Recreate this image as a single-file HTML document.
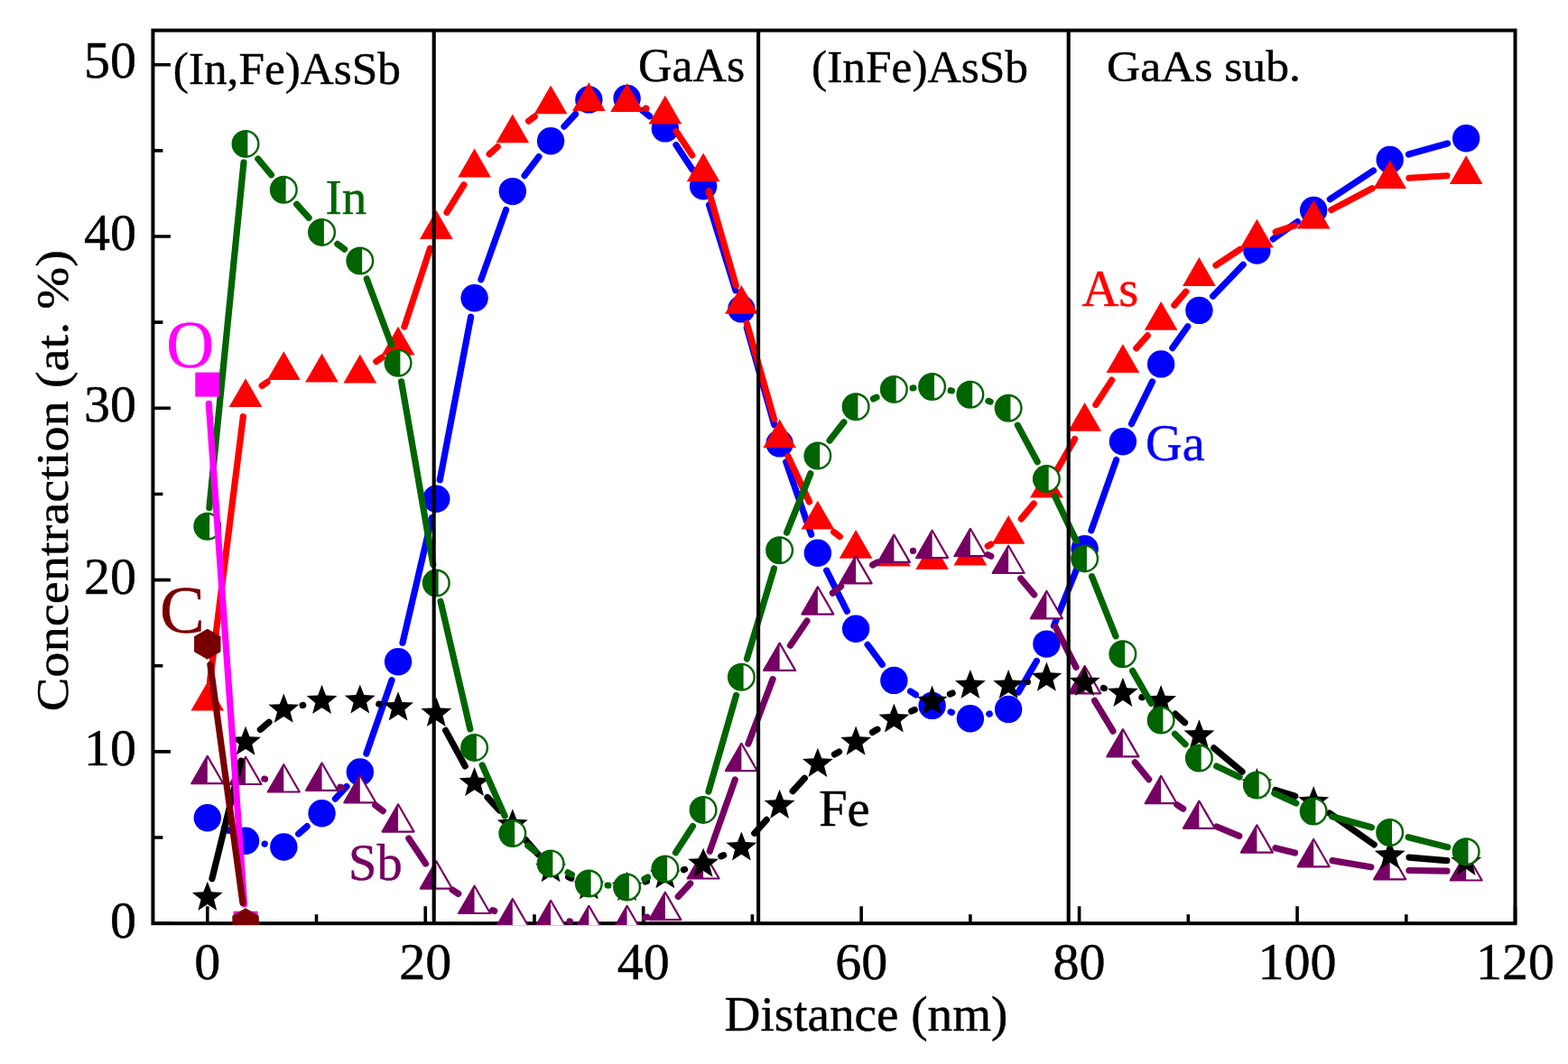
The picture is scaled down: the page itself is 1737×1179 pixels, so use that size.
<!DOCTYPE html>
<html><head><meta charset="utf-8"><title>Concentration profile</title>
<style>html,body{margin:0;padding:0;background:#fff;}svg{display:block;filter:blur(0.35px);}</style>
</head><body>
<svg width="1737" height="1179" viewBox="0 0 1737 1179">
<defs><clipPath id="pc"><rect x="169.44" y="33.64" width="1509.06" height="991.26"/></clipPath></defs>
<rect width="1737" height="1179" fill="#fff"/>
<path d="M229.8 1023.2V1004.2M350.52 1023.2V1013.2M471.25 1023.2V1004.2M591.98 1023.2V1013.2M712.7 1023.2V1004.2M833.42 1023.2V1013.2M954.15 1023.2V1004.2M1074.88 1023.2V1013.2M1195.6 1023.2V1004.2M1316.33 1023.2V1013.2M1437.05 1023.2V1004.2M1557.77 1023.2V1013.2M1678.5 1023.2V1004.2M169.44 1023.2H188.94M169.44 928.05H180.44M169.44 832.9H188.94M169.44 737.75H180.44M169.44 642.6H188.94M169.44 547.45H180.44M169.44 452.3H188.94M169.44 357.15H180.44M169.44 262H188.94M169.44 166.85H180.44M169.44 71.7H188.94" stroke="#000" stroke-width="3.6" fill="none"/>
<rect x="169.44" y="33.64" width="1509.06" height="989.56" fill="none" stroke="#000" stroke-width="4"/>
<g clip-path="url(#pc)">
<path d="M248.49 917.54L253.36 920.46M293.13 935.09L293.23 935.11M330.72 924.01L340.15 915.69M371.41 885.1L383.96 871.5M405.87 834.99L434.01 753.71M445.96 712.41L478.43 573.69M487.31 531.78L521.59 351.22M532.86 309.86L560.55 232.44M581.02 194.65L596.89 173.65M624.93 140.11L637.49 126.49M711.74 122.49L719.7 128.81M748.89 160.61L767.06 188.09M785.49 226.88L814.96 321.82M827.22 363.1L857.74 470.7M870.71 511.8L898.76 592.4M915.63 632.22L938.34 677.38M961.12 714.38L977.36 736.32M1008.57 765.96L1014.42 769.84M1053.05 788.86L1054.45 789.34M1095.73 791.17L1096.28 791.03M1128.13 767.08L1148.38 732.42M1167.44 693.5L1193.58 628.3M1208.87 587.84L1236.66 509.56M1253.49 469.7L1276.54 422.9M1298.8 385.58L1315.74 361.72M1343.6 328.13L1377.18 293.27M1410.2 264.84L1437.34 245.56M1473.36 220.84L1521.47 188.96M1560.39 171.09L1603.45 159.01" stroke="#0000ff" stroke-width="7.2" fill="none" stroke-linecap="round"/>
<circle cx="229.8" cy="906.3" r="15.2" fill="#0000ff"/>
<circle cx="272.05" cy="931.7" r="15.2" fill="#0000ff"/>
<circle cx="314.31" cy="938.5" r="15.2" fill="#0000ff"/>
<circle cx="356.56" cy="901.2" r="15.2" fill="#0000ff"/>
<circle cx="398.81" cy="855.4" r="15.2" fill="#0000ff"/>
<circle cx="441.07" cy="733.3" r="15.2" fill="#0000ff"/>
<circle cx="483.32" cy="552.8" r="15.2" fill="#0000ff"/>
<circle cx="525.58" cy="330.2" r="15.2" fill="#0000ff"/>
<circle cx="567.83" cy="212.1" r="15.2" fill="#0000ff"/>
<circle cx="610.08" cy="156.2" r="15.2" fill="#0000ff"/>
<circle cx="652.34" cy="110.4" r="15.2" fill="#0000ff"/>
<circle cx="694.59" cy="108.9" r="15.2" fill="#0000ff"/>
<circle cx="736.85" cy="142.4" r="15.2" fill="#0000ff"/>
<circle cx="779.1" cy="206.3" r="15.2" fill="#0000ff"/>
<circle cx="821.35" cy="342.4" r="15.2" fill="#0000ff"/>
<circle cx="863.61" cy="491.4" r="15.2" fill="#0000ff"/>
<circle cx="905.86" cy="612.8" r="15.2" fill="#0000ff"/>
<circle cx="948.11" cy="696.8" r="15.2" fill="#0000ff"/>
<circle cx="990.37" cy="753.9" r="15.2" fill="#0000ff"/>
<circle cx="1032.62" cy="781.9" r="15.2" fill="#0000ff"/>
<circle cx="1074.88" cy="796.3" r="15.2" fill="#0000ff"/>
<circle cx="1117.13" cy="785.9" r="15.2" fill="#0000ff"/>
<circle cx="1159.38" cy="713.6" r="15.2" fill="#0000ff"/>
<circle cx="1201.64" cy="608.2" r="15.2" fill="#0000ff"/>
<circle cx="1243.89" cy="489.2" r="15.2" fill="#0000ff"/>
<circle cx="1286.14" cy="403.4" r="15.2" fill="#0000ff"/>
<circle cx="1328.4" cy="343.9" r="15.2" fill="#0000ff"/>
<circle cx="1392.38" cy="277.5" r="15.2" fill="#0000ff"/>
<circle cx="1455.16" cy="232.9" r="15.2" fill="#0000ff"/>
<circle cx="1539.67" cy="176.9" r="15.2" fill="#0000ff"/>
<circle cx="1624.17" cy="153.2" r="15.2" fill="#0000ff"/>
<path d="M232.47 755.69L269.38 461.71M290.26 427.51L296.1 423.39M416.81 400.7L423.07 396.1M447.9 362.1L476.49 275.1M495 235.36L513.9 204.74M542.18 170.79L551.23 162.61M585.63 134.11L592.28 129.09M715.43 120.06L716.01 120.24M749.15 145.48L766.8 172.12M785.15 211.66L815.3 316.24M827.32 358.18L857.64 464.62M872.98 505.62L896.49 555.88M923.63 589.44L930.34 594.56M1094.21 605.07L1097.8 603.03M1131.36 574.86L1145.15 558.14M1170.43 521.63L1190.59 486.47M1213.82 448.55L1231.71 421.15M1258.79 385.81L1271.24 371.89M1300.77 338.28L1313.77 323.22M1346.99 294.01L1373.79 276.29M1413.14 257.02L1434.4 249.88M1474.78 232.59L1520.05 208.81M1560.95 197.24L1602.89 194.76" stroke="#ff0000" stroke-width="7.2" fill="none" stroke-linecap="round"/>
<path d="M229.8 755.8L211.44 787.6L248.16 787.6Z" fill="#ff0000"/>
<path d="M272.05 419.2L253.69 451L290.41 451Z" fill="#ff0000"/>
<path d="M314.31 389.3L295.95 421.1L332.67 421.1Z" fill="#ff0000"/>
<path d="M356.56 391.8L338.2 423.6L374.92 423.6Z" fill="#ff0000"/>
<path d="M398.81 392.7L380.45 424.5L417.17 424.5Z" fill="#ff0000"/>
<path d="M441.07 361.7L422.71 393.5L459.43 393.5Z" fill="#ff0000"/>
<path d="M483.32 233.1L464.96 264.9L501.68 264.9Z" fill="#ff0000"/>
<path d="M525.58 164.6L507.22 196.4L543.94 196.4Z" fill="#ff0000"/>
<path d="M567.83 126.4L549.47 158.2L586.19 158.2Z" fill="#ff0000"/>
<path d="M610.08 94.4L591.72 126.2L628.44 126.2Z" fill="#ff0000"/>
<path d="M652.34 91.3L633.98 123.1L670.7 123.1Z" fill="#ff0000"/>
<path d="M694.59 92.2L676.23 124L712.95 124Z" fill="#ff0000"/>
<path d="M736.85 105.7L718.49 137.5L755.21 137.5Z" fill="#ff0000"/>
<path d="M779.1 169.5L760.74 201.3L797.46 201.3Z" fill="#ff0000"/>
<path d="M821.35 316L802.99 347.8L839.71 347.8Z" fill="#ff0000"/>
<path d="M863.61 464.4L845.25 496.2L881.97 496.2Z" fill="#ff0000"/>
<path d="M905.86 554.7L887.5 586.5L924.22 586.5Z" fill="#ff0000"/>
<path d="M948.11 586.9L929.75 618.7L966.47 618.7Z" fill="#ff0000"/>
<path d="M990.37 595.8L972.01 627.6L1008.73 627.6Z" fill="#ff0000"/>
<path d="M1032.62 599.3L1014.26 631.1L1050.98 631.1Z" fill="#ff0000"/>
<path d="M1074.88 594.8L1056.52 626.6L1093.24 626.6Z" fill="#ff0000"/>
<path d="M1117.13 570.9L1098.77 602.7L1135.49 602.7Z" fill="#ff0000"/>
<path d="M1159.38 519.7L1141.02 551.5L1177.74 551.5Z" fill="#ff0000"/>
<path d="M1201.64 446L1183.28 477.8L1220 477.8Z" fill="#ff0000"/>
<path d="M1243.89 381.3L1225.53 413.1L1262.25 413.1Z" fill="#ff0000"/>
<path d="M1286.14 334L1267.78 365.8L1304.5 365.8Z" fill="#ff0000"/>
<path d="M1328.4 285.1L1310.04 316.9L1346.76 316.9Z" fill="#ff0000"/>
<path d="M1392.38 242.8L1374.02 274.6L1410.74 274.6Z" fill="#ff0000"/>
<path d="M1455.16 221.7L1436.8 253.5L1473.52 253.5Z" fill="#ff0000"/>
<path d="M1539.67 177.3L1521.31 209.1L1558.03 209.1Z" fill="#ff0000"/>
<path d="M1624.17 172.3L1605.81 204.1L1642.53 204.1Z" fill="#ff0000"/>
<path d="M292.83 863.08L293.53 863.22M376.75 872.15L378.62 872.75M415.65 892.07L424.23 898.63M452.88 929.11L471.51 956.89M501.11 986.03L507.79 990.37M545.65 1008.74L547.76 1009.46M631.07 1020.98L631.35 1021.02M714.57 1016.91L716.87 1016.09M751.26 993.45L764.69 978.95M786.17 943.41L814.28 863.99M828.88 824.18L856.08 752.62M875.51 715.25L893.96 688.05M922.34 657.16L931.63 649.64M966.64 626L971.84 623.1M1011.43 610.41L1011.56 610.39M1094.25 614.72L1097.76 616.28M1130.77 641.13L1145.74 658.97M1169 694.09L1192.02 739.31M1212.58 776.36L1232.95 810.14M1257.29 844.73L1272.74 863.67M1303.87 891.72L1310.67 896.18M1347.96 915.96L1372.82 926.34M1412.95 939.64L1434.59 945.06M1476.07 953.66L1518.76 960.74M1560.87 964.5L1602.97 965.1" stroke="#750063" stroke-width="7.2" fill="none" stroke-linecap="round"/>
<path d="M229.8 837.9L212.31 868.2L247.29 868.2Z" fill="#fff" stroke="#750063" stroke-width="2.2" stroke-linejoin="round"/><path d="M229.8 837.9L212.31 868.2L229.8 868.2Z" fill="#750063"/>
<path d="M272.05 838.7L254.56 869L289.54 869Z" fill="#fff" stroke="#750063" stroke-width="2.2" stroke-linejoin="round"/><path d="M272.05 838.7L254.56 869L272.05 869Z" fill="#750063"/>
<path d="M314.31 847.2L296.82 877.5L331.8 877.5Z" fill="#fff" stroke="#750063" stroke-width="2.2" stroke-linejoin="round"/><path d="M314.31 847.2L296.82 877.5L314.31 877.5Z" fill="#750063"/>
<path d="M356.56 845.5L339.07 875.8L374.05 875.8Z" fill="#fff" stroke="#750063" stroke-width="2.2" stroke-linejoin="round"/><path d="M356.56 845.5L339.07 875.8L356.56 875.8Z" fill="#750063"/>
<path d="M398.81 859L381.32 889.3L416.3 889.3Z" fill="#fff" stroke="#750063" stroke-width="2.2" stroke-linejoin="round"/><path d="M398.81 859L381.32 889.3L398.81 889.3Z" fill="#750063"/>
<path d="M441.07 891.3L423.58 921.6L458.56 921.6Z" fill="#fff" stroke="#750063" stroke-width="2.2" stroke-linejoin="round"/><path d="M441.07 891.3L423.58 921.6L441.07 921.6Z" fill="#750063"/>
<path d="M483.32 954.3L465.83 984.6L500.81 984.6Z" fill="#fff" stroke="#750063" stroke-width="2.2" stroke-linejoin="round"/><path d="M483.32 954.3L465.83 984.6L483.32 984.6Z" fill="#750063"/>
<path d="M525.58 981.7L508.09 1012L543.07 1012Z" fill="#fff" stroke="#750063" stroke-width="2.2" stroke-linejoin="round"/><path d="M525.58 981.7L508.09 1012L525.58 1012Z" fill="#750063"/>
<path d="M567.83 996.1L550.34 1026.4L585.32 1026.4Z" fill="#fff" stroke="#750063" stroke-width="2.2" stroke-linejoin="round"/><path d="M567.83 996.1L550.34 1026.4L567.83 1026.4Z" fill="#750063"/>
<path d="M610.08 997.8L592.59 1028.1L627.57 1028.1Z" fill="#fff" stroke="#750063" stroke-width="2.2" stroke-linejoin="round"/><path d="M610.08 997.8L592.59 1028.1L610.08 1028.1Z" fill="#750063"/>
<path d="M652.34 1003.8L634.85 1034.1L669.83 1034.1Z" fill="#fff" stroke="#750063" stroke-width="2.2" stroke-linejoin="round"/><path d="M652.34 1003.8L634.85 1034.1L652.34 1034.1Z" fill="#750063"/>
<path d="M694.59 1003.8L677.1 1034.1L712.08 1034.1Z" fill="#fff" stroke="#750063" stroke-width="2.2" stroke-linejoin="round"/><path d="M694.59 1003.8L677.1 1034.1L694.59 1034.1Z" fill="#750063"/>
<path d="M736.85 988.8L719.36 1019.1L754.34 1019.1Z" fill="#fff" stroke="#750063" stroke-width="2.2" stroke-linejoin="round"/><path d="M736.85 988.8L719.36 1019.1L736.85 1019.1Z" fill="#750063"/>
<path d="M779.1 943.2L761.61 973.5L796.59 973.5Z" fill="#fff" stroke="#750063" stroke-width="2.2" stroke-linejoin="round"/><path d="M779.1 943.2L761.61 973.5L779.1 973.5Z" fill="#750063"/>
<path d="M821.35 823.8L803.86 854.1L838.84 854.1Z" fill="#fff" stroke="#750063" stroke-width="2.2" stroke-linejoin="round"/><path d="M821.35 823.8L803.86 854.1L821.35 854.1Z" fill="#750063"/>
<path d="M863.61 712.6L846.12 742.9L881.1 742.9Z" fill="#fff" stroke="#750063" stroke-width="2.2" stroke-linejoin="round"/><path d="M863.61 712.6L846.12 742.9L863.61 742.9Z" fill="#750063"/>
<path d="M905.86 650.3L888.37 680.6L923.35 680.6Z" fill="#fff" stroke="#750063" stroke-width="2.2" stroke-linejoin="round"/><path d="M905.86 650.3L888.37 680.6L905.86 680.6Z" fill="#750063"/>
<path d="M948.11 616.1L930.62 646.4L965.6 646.4Z" fill="#fff" stroke="#750063" stroke-width="2.2" stroke-linejoin="round"/><path d="M948.11 616.1L930.62 646.4L948.11 646.4Z" fill="#750063"/>
<path d="M990.37 592.6L972.88 622.9L1007.86 622.9Z" fill="#fff" stroke="#750063" stroke-width="2.2" stroke-linejoin="round"/><path d="M990.37 592.6L972.88 622.9L990.37 622.9Z" fill="#750063"/>
<path d="M1032.62 587.8L1015.13 618.1L1050.11 618.1Z" fill="#fff" stroke="#750063" stroke-width="2.2" stroke-linejoin="round"/><path d="M1032.62 587.8L1015.13 618.1L1032.62 618.1Z" fill="#750063"/>
<path d="M1074.88 585.9L1057.39 616.2L1092.37 616.2Z" fill="#fff" stroke="#750063" stroke-width="2.2" stroke-linejoin="round"/><path d="M1074.88 585.9L1057.39 616.2L1074.88 616.2Z" fill="#750063"/>
<path d="M1117.13 604.7L1099.64 635L1134.62 635Z" fill="#fff" stroke="#750063" stroke-width="2.2" stroke-linejoin="round"/><path d="M1117.13 604.7L1099.64 635L1117.13 635Z" fill="#750063"/>
<path d="M1159.38 655L1141.89 685.3L1176.87 685.3Z" fill="#fff" stroke="#750063" stroke-width="2.2" stroke-linejoin="round"/><path d="M1159.38 655L1141.89 685.3L1159.38 685.3Z" fill="#750063"/>
<path d="M1201.64 738L1184.15 768.3L1219.13 768.3Z" fill="#fff" stroke="#750063" stroke-width="2.2" stroke-linejoin="round"/><path d="M1201.64 738L1184.15 768.3L1201.64 768.3Z" fill="#750063"/>
<path d="M1243.89 808.1L1226.4 838.4L1261.38 838.4Z" fill="#fff" stroke="#750063" stroke-width="2.2" stroke-linejoin="round"/><path d="M1243.89 808.1L1226.4 838.4L1243.89 838.4Z" fill="#750063"/>
<path d="M1286.14 859.9L1268.65 890.2L1303.63 890.2Z" fill="#fff" stroke="#750063" stroke-width="2.2" stroke-linejoin="round"/><path d="M1286.14 859.9L1268.65 890.2L1286.14 890.2Z" fill="#750063"/>
<path d="M1328.4 887.6L1310.91 917.9L1345.89 917.9Z" fill="#fff" stroke="#750063" stroke-width="2.2" stroke-linejoin="round"/><path d="M1328.4 887.6L1310.91 917.9L1328.4 917.9Z" fill="#750063"/>
<path d="M1392.38 914.3L1374.89 944.6L1409.87 944.6Z" fill="#fff" stroke="#750063" stroke-width="2.2" stroke-linejoin="round"/><path d="M1392.38 914.3L1374.89 944.6L1392.38 944.6Z" fill="#750063"/>
<path d="M1455.16 930L1437.67 960.3L1472.65 960.3Z" fill="#fff" stroke="#750063" stroke-width="2.2" stroke-linejoin="round"/><path d="M1455.16 930L1437.67 960.3L1455.16 960.3Z" fill="#750063"/>
<path d="M1539.67 944L1522.18 974.3L1557.16 974.3Z" fill="#fff" stroke="#750063" stroke-width="2.2" stroke-linejoin="round"/><path d="M1539.67 944L1522.18 974.3L1539.67 974.3Z" fill="#750063"/>
<path d="M1624.17 945.2L1606.68 975.5L1641.66 975.5Z" fill="#fff" stroke="#750063" stroke-width="2.2" stroke-linejoin="round"/><path d="M1624.17 945.2L1606.68 975.5L1624.17 975.5Z" fill="#750063"/>
<path d="M234.91 973.69L266.94 843.11M288.36 808.4L298 800.2M335.2 781.5L335.67 781.4M419.88 780.14L420 780.16M493.62 809.39L515.28 848.91M540.03 883.53L553.38 898.17M581.86 930.2L596.05 946.6M629.59 971.66L632.83 973.14M714.99 976.94L716.45 976.46M757.39 963.78L758.56 963.42M798.8 948.86L801.65 947.64M835.73 923.31L849.23 908.39M878.11 876.72L891.36 862.28M924.47 835.88L929.5 833.02M966.52 811.42L971.96 808.18M1009.77 788.11L1013.22 786.49M1052.39 769.12L1055.11 767.98M1138.16 755.57L1138.35 755.53M1222.27 762.41L1223.26 762.69M1264.92 772.63L1265.11 772.67M1302.02 791.19L1312.52 800.71M1344.8 828.89L1375.98 855.11M1412.82 875.35L1434.72 882.25M1472.68 901.04L1522.15 935.86M1561.02 950.04L1602.82 953.66" stroke="#000000" stroke-width="7.2" fill="none" stroke-linecap="round"/>
<path d="M229.8 976.7L234.27 988.35L246.73 989L237.03 996.85L240.26 1008.9L229.8 1002.1L219.34 1008.9L222.57 996.85L212.87 989L225.33 988.35Z" fill="#000000"/>
<path d="M272.05 804.5L276.52 816.15L288.98 816.8L279.28 824.65L282.51 836.7L272.05 829.9L261.59 836.7L264.82 824.65L255.12 816.8L267.58 816.15Z" fill="#000000"/>
<path d="M314.31 768.5L318.78 780.15L331.24 780.8L321.54 788.65L324.77 800.7L314.31 793.9L303.85 800.7L307.08 788.65L297.38 780.8L309.84 780.15Z" fill="#000000"/>
<path d="M356.56 758.8L361.03 770.45L373.49 771.1L363.79 778.95L367.02 791L356.56 784.2L346.1 791L349.33 778.95L339.63 771.1L352.09 770.45Z" fill="#000000"/>
<path d="M398.81 758.4L403.28 770.05L415.74 770.7L406.04 778.55L409.27 790.6L398.81 783.8L388.35 790.6L391.58 778.55L381.88 770.7L394.34 770.05Z" fill="#000000"/>
<path d="M441.07 766.3L445.54 777.95L458 778.6L448.3 786.45L451.53 798.5L441.07 791.7L430.61 798.5L433.84 786.45L424.14 778.6L436.6 777.95Z" fill="#000000"/>
<path d="M483.32 772.8L487.79 784.45L500.25 785.1L490.55 792.95L493.78 805L483.32 798.2L472.86 805L476.09 792.95L466.39 785.1L478.85 784.45Z" fill="#000000"/>
<path d="M525.58 849.9L530.05 861.55L542.51 862.2L532.81 870.05L536.04 882.1L525.58 875.3L515.12 882.1L518.35 870.05L508.65 862.2L521.11 861.55Z" fill="#000000"/>
<path d="M567.83 896.2L572.3 907.85L584.76 908.5L575.06 916.35L578.29 928.4L567.83 921.6L557.37 928.4L560.6 916.35L550.9 908.5L563.36 907.85Z" fill="#000000"/>
<path d="M610.08 945L614.55 956.65L627.01 957.3L617.31 965.15L620.54 977.2L610.08 970.4L599.62 977.2L602.85 965.15L593.15 957.3L605.61 956.65Z" fill="#000000"/>
<path d="M652.34 964.2L656.81 975.85L669.27 976.5L659.57 984.35L662.8 996.4L652.34 989.6L641.88 996.4L645.11 984.35L635.41 976.5L647.87 975.85Z" fill="#000000"/>
<path d="M694.59 965.7L699.06 977.35L711.52 978L701.82 985.85L705.05 997.9L694.59 991.1L684.13 997.9L687.36 985.85L677.66 978L690.12 977.35Z" fill="#000000"/>
<path d="M736.85 952.1L741.32 963.75L753.78 964.4L744.08 972.25L747.31 984.3L736.85 977.5L726.39 984.3L729.62 972.25L719.92 964.4L732.38 963.75Z" fill="#000000"/>
<path d="M779.1 939.5L783.57 951.15L796.03 951.8L786.33 959.65L789.56 971.7L779.1 964.9L768.64 971.7L771.87 959.65L762.17 951.8L774.63 951.15Z" fill="#000000"/>
<path d="M821.35 921.4L825.82 933.05L838.28 933.7L828.58 941.55L831.81 953.6L821.35 946.8L810.89 953.6L814.12 941.55L804.42 933.7L816.88 933.05Z" fill="#000000"/>
<path d="M863.61 874.7L868.08 886.35L880.54 887L870.84 894.85L874.07 906.9L863.61 900.1L853.15 906.9L856.38 894.85L846.68 887L859.14 886.35Z" fill="#000000"/>
<path d="M905.86 828.7L910.33 840.35L922.79 841L913.09 848.85L916.32 860.9L905.86 854.1L895.4 860.9L898.63 848.85L888.93 841L901.39 840.35Z" fill="#000000"/>
<path d="M948.11 804.6L952.58 816.25L965.04 816.9L955.34 824.75L958.57 836.8L948.11 830L937.65 836.8L940.88 824.75L931.18 816.9L943.64 816.25Z" fill="#000000"/>
<path d="M990.37 779.4L994.84 791.05L1007.3 791.7L997.6 799.55L1000.83 811.6L990.37 804.8L979.91 811.6L983.14 799.55L973.44 791.7L985.9 791.05Z" fill="#000000"/>
<path d="M1032.62 759.6L1037.09 771.25L1049.55 771.9L1039.85 779.75L1043.08 791.8L1032.62 785L1022.16 791.8L1025.39 779.75L1015.69 771.9L1028.15 771.25Z" fill="#000000"/>
<path d="M1074.88 741.9L1079.35 753.55L1091.81 754.2L1082.11 762.05L1085.34 774.1L1074.88 767.3L1064.42 774.1L1067.65 762.05L1057.95 754.2L1070.41 753.55Z" fill="#000000"/>
<path d="M1117.13 741.9L1121.6 753.55L1134.06 754.2L1124.36 762.05L1127.59 774.1L1117.13 767.3L1106.67 774.1L1109.9 762.05L1100.2 754.2L1112.66 753.55Z" fill="#000000"/>
<path d="M1159.38 733.6L1163.85 745.25L1176.31 745.9L1166.61 753.75L1169.84 765.8L1159.38 759L1148.92 765.8L1152.15 753.75L1142.45 745.9L1154.91 745.25Z" fill="#000000"/>
<path d="M1201.64 738.8L1206.11 750.45L1218.57 751.1L1208.87 758.95L1212.1 771L1201.64 764.2L1191.18 771L1194.41 758.95L1184.71 751.1L1197.17 750.45Z" fill="#000000"/>
<path d="M1243.89 750.7L1248.36 762.35L1260.82 763L1251.12 770.85L1254.35 782.9L1243.89 776.1L1233.43 782.9L1236.66 770.85L1226.96 763L1239.42 762.35Z" fill="#000000"/>
<path d="M1286.14 759L1290.61 770.65L1303.07 771.3L1293.37 779.15L1296.6 791.2L1286.14 784.4L1275.68 791.2L1278.91 779.15L1269.21 771.3L1281.67 770.65Z" fill="#000000"/>
<path d="M1328.4 797.3L1332.87 808.95L1345.33 809.6L1335.63 817.45L1338.86 829.5L1328.4 822.7L1317.94 829.5L1321.17 817.45L1311.47 809.6L1323.93 808.95Z" fill="#000000"/>
<path d="M1392.38 851.1L1396.85 862.75L1409.31 863.4L1399.61 871.25L1402.84 883.3L1392.38 876.5L1381.92 883.3L1385.15 871.25L1375.45 863.4L1387.91 862.75Z" fill="#000000"/>
<path d="M1455.16 870.9L1459.63 882.55L1472.09 883.2L1462.39 891.05L1465.62 903.1L1455.16 896.3L1444.7 903.1L1447.93 891.05L1438.23 883.2L1450.69 882.55Z" fill="#000000"/>
<path d="M1539.67 930.4L1544.14 942.05L1556.6 942.7L1546.9 950.55L1550.13 962.6L1539.67 955.8L1529.21 962.6L1532.44 950.55L1522.74 942.7L1535.2 942.05Z" fill="#000000"/>
<path d="M1624.17 937.7L1628.64 949.35L1641.1 950L1631.4 957.85L1634.63 969.9L1624.17 963.1L1613.71 969.9L1616.94 957.85L1607.24 950L1619.7 949.35Z" fill="#000000"/>
<path d="M231.86 562.61L269.99 180.09M285.84 176.01L300.52 193.69M328.73 226.37L342.14 241.33M373.82 270.31L381.55 276.09M406.24 308.91L433.64 382.29M444.64 422.83L479.75 625.37M488.07 666.5L520.83 807.9M534.24 847.91L559.17 904.09M584.77 936.95L593.14 943.55M629.06 966.83L633.36 969.07M673.04 981.01L673.89 981.09M713.88 973.88L717.56 972.12M748.51 944.82L767.44 915.48M784.93 877.09L815.52 770.51M827.45 729.95L857.51 630.05M871.58 590.05L897.89 524.85M919.11 488.08L934.86 467.82M967.52 441.89L970.96 440.31M1011.06 429.98L1011.93 429.92M1053.18 432.73L1054.32 432.97M1094.88 444.35L1097.13 445.15M1127.31 471.16L1149.2 511.74M1168.61 549.88L1192.41 599.62M1209.53 638.67L1236 705.03M1254.61 743.4L1275.42 779.5M1301.48 813.31L1313.06 824.79M1347.75 849.07L1373.03 860.93M1411.77 878.96L1435.77 890.04M1475.5 904.66L1519.33 916.84M1560.1 927.65L1603.74 938.65" stroke="#006400" stroke-width="7.2" fill="none" stroke-linecap="round"/>
<circle cx="229.8" cy="583.3" r="14.3" fill="#fff" stroke="#006400" stroke-width="2.4"/><path d="M232.1 569.19A14.3 14.3 0 1 0 232.1 597.41Z" fill="#006400"/>
<circle cx="272.05" cy="159.4" r="14.3" fill="#fff" stroke="#006400" stroke-width="2.4"/><path d="M274.35 145.29A14.3 14.3 0 1 0 274.35 173.51Z" fill="#006400"/>
<circle cx="314.31" cy="210.3" r="14.3" fill="#fff" stroke="#006400" stroke-width="2.4"/><path d="M316.61 196.19A14.3 14.3 0 1 0 316.61 224.41Z" fill="#006400"/>
<circle cx="356.56" cy="257.4" r="14.3" fill="#fff" stroke="#006400" stroke-width="2.4"/><path d="M358.86 243.29A14.3 14.3 0 1 0 358.86 271.51Z" fill="#006400"/>
<circle cx="398.81" cy="289" r="14.3" fill="#fff" stroke="#006400" stroke-width="2.4"/><path d="M401.11 274.89A14.3 14.3 0 1 0 401.11 303.11Z" fill="#006400"/>
<circle cx="441.07" cy="402.2" r="14.3" fill="#fff" stroke="#006400" stroke-width="2.4"/><path d="M443.37 388.09A14.3 14.3 0 1 0 443.37 416.31Z" fill="#006400"/>
<circle cx="483.32" cy="646" r="14.3" fill="#fff" stroke="#006400" stroke-width="2.4"/><path d="M485.62 631.89A14.3 14.3 0 1 0 485.62 660.11Z" fill="#006400"/>
<circle cx="525.58" cy="828.4" r="14.3" fill="#fff" stroke="#006400" stroke-width="2.4"/><path d="M527.88 814.29A14.3 14.3 0 1 0 527.88 842.51Z" fill="#006400"/>
<circle cx="567.83" cy="923.6" r="14.3" fill="#fff" stroke="#006400" stroke-width="2.4"/><path d="M570.13 909.49A14.3 14.3 0 1 0 570.13 937.71Z" fill="#006400"/>
<circle cx="610.08" cy="956.9" r="14.3" fill="#fff" stroke="#006400" stroke-width="2.4"/><path d="M612.38 942.79A14.3 14.3 0 1 0 612.38 971.01Z" fill="#006400"/>
<circle cx="652.34" cy="979" r="14.3" fill="#fff" stroke="#006400" stroke-width="2.4"/><path d="M654.64 964.89A14.3 14.3 0 1 0 654.64 993.11Z" fill="#006400"/>
<circle cx="694.59" cy="983.1" r="14.3" fill="#fff" stroke="#006400" stroke-width="2.4"/><path d="M696.89 968.99A14.3 14.3 0 1 0 696.89 997.21Z" fill="#006400"/>
<circle cx="736.85" cy="962.9" r="14.3" fill="#fff" stroke="#006400" stroke-width="2.4"/><path d="M739.15 948.79A14.3 14.3 0 1 0 739.15 977.01Z" fill="#006400"/>
<circle cx="779.1" cy="897.4" r="14.3" fill="#fff" stroke="#006400" stroke-width="2.4"/><path d="M781.4 883.29A14.3 14.3 0 1 0 781.4 911.51Z" fill="#006400"/>
<circle cx="821.35" cy="750.2" r="14.3" fill="#fff" stroke="#006400" stroke-width="2.4"/><path d="M823.65 736.09A14.3 14.3 0 1 0 823.65 764.31Z" fill="#006400"/>
<circle cx="863.61" cy="609.8" r="14.3" fill="#fff" stroke="#006400" stroke-width="2.4"/><path d="M865.91 595.69A14.3 14.3 0 1 0 865.91 623.91Z" fill="#006400"/>
<circle cx="905.86" cy="505.1" r="14.3" fill="#fff" stroke="#006400" stroke-width="2.4"/><path d="M908.16 490.99A14.3 14.3 0 1 0 908.16 519.21Z" fill="#006400"/>
<circle cx="948.11" cy="450.8" r="14.3" fill="#fff" stroke="#006400" stroke-width="2.4"/><path d="M950.41 436.69A14.3 14.3 0 1 0 950.41 464.91Z" fill="#006400"/>
<circle cx="990.37" cy="431.4" r="14.3" fill="#fff" stroke="#006400" stroke-width="2.4"/><path d="M992.67 417.29A14.3 14.3 0 1 0 992.67 445.51Z" fill="#006400"/>
<circle cx="1032.62" cy="428.5" r="14.3" fill="#fff" stroke="#006400" stroke-width="2.4"/><path d="M1034.92 414.39A14.3 14.3 0 1 0 1034.92 442.61Z" fill="#006400"/>
<circle cx="1074.88" cy="437.2" r="14.3" fill="#fff" stroke="#006400" stroke-width="2.4"/><path d="M1077.18 423.09A14.3 14.3 0 1 0 1077.18 451.31Z" fill="#006400"/>
<circle cx="1117.13" cy="452.3" r="14.3" fill="#fff" stroke="#006400" stroke-width="2.4"/><path d="M1119.43 438.19A14.3 14.3 0 1 0 1119.43 466.41Z" fill="#006400"/>
<circle cx="1159.38" cy="530.6" r="14.3" fill="#fff" stroke="#006400" stroke-width="2.4"/><path d="M1161.68 516.49A14.3 14.3 0 1 0 1161.68 544.71Z" fill="#006400"/>
<circle cx="1201.64" cy="618.9" r="14.3" fill="#fff" stroke="#006400" stroke-width="2.4"/><path d="M1203.94 604.79A14.3 14.3 0 1 0 1203.94 633.01Z" fill="#006400"/>
<circle cx="1243.89" cy="724.8" r="14.3" fill="#fff" stroke="#006400" stroke-width="2.4"/><path d="M1246.19 710.69A14.3 14.3 0 1 0 1246.19 738.91Z" fill="#006400"/>
<circle cx="1286.14" cy="798.1" r="14.3" fill="#fff" stroke="#006400" stroke-width="2.4"/><path d="M1288.44 783.99A14.3 14.3 0 1 0 1288.44 812.21Z" fill="#006400"/>
<circle cx="1328.4" cy="840" r="14.3" fill="#fff" stroke="#006400" stroke-width="2.4"/><path d="M1330.7 825.89A14.3 14.3 0 1 0 1330.7 854.11Z" fill="#006400"/>
<circle cx="1392.38" cy="870" r="14.3" fill="#fff" stroke="#006400" stroke-width="2.4"/><path d="M1394.68 855.89A14.3 14.3 0 1 0 1394.68 884.11Z" fill="#006400"/>
<circle cx="1455.16" cy="899" r="14.3" fill="#fff" stroke="#006400" stroke-width="2.4"/><path d="M1457.46 884.89A14.3 14.3 0 1 0 1457.46 913.11Z" fill="#006400"/>
<circle cx="1539.67" cy="922.5" r="14.3" fill="#fff" stroke="#006400" stroke-width="2.4"/><path d="M1541.97 908.39A14.3 14.3 0 1 0 1541.97 936.61Z" fill="#006400"/>
<circle cx="1624.17" cy="943.8" r="14.3" fill="#fff" stroke="#006400" stroke-width="2.4"/><path d="M1626.47 929.69A14.3 14.3 0 1 0 1626.47 957.91Z" fill="#006400"/>
<path d="M231.31 447.45L270.54 1001.85" stroke="#ff00ff" stroke-width="7.2" fill="none" stroke-linecap="round"/>
<rect x="216.3" y="412.6" width="27" height="27" fill="#ff00ff"/>
<rect x="258.55" y="1009.7" width="27" height="27" fill="#ff00ff"/>
<path d="M232.91 736.49L268.94 1000.41" stroke="#780000" stroke-width="7.2" fill="none" stroke-linecap="round"/>
<path d="M229.8 696.7L244.52 705.2L244.52 722.2L229.8 730.7L215.08 722.2L215.08 705.2Z" fill="#780000"/>
<path d="M272.05 1006.2L286.78 1014.7L286.78 1031.7L272.05 1040.2L257.33 1031.7L257.33 1014.7Z" fill="#780000"/>
</g>
<line x1="480.7" y1="33.64" x2="480.7" y2="1023.2" stroke="#000" stroke-width="4.1"/><line x1="840.1" y1="33.64" x2="840.1" y2="1023.2" stroke="#000" stroke-width="4.1"/><line x1="1183.7" y1="33.64" x2="1183.7" y2="1023.2" stroke="#000" stroke-width="4.1"/>
<g font-family="'Liberation Serif', 'Times New Roman', serif" fill="#000">
<text x="151" y="1038.5" font-size="58" fill="#000" stroke="#000" stroke-width="0.45" text-anchor="end">0</text>
<text x="151" y="848.3" font-size="58" fill="#000" stroke="#000" stroke-width="0.45" text-anchor="end">10</text>
<text x="151" y="658.1" font-size="58" fill="#000" stroke="#000" stroke-width="0.45" text-anchor="end">20</text>
<text x="151" y="466.9" font-size="58" fill="#000" stroke="#000" stroke-width="0.45" text-anchor="end">30</text>
<text x="151" y="276.7" font-size="58" fill="#000" stroke="#000" stroke-width="0.45" text-anchor="end">40</text>
<text x="151" y="85.5" font-size="58" fill="#000" stroke="#000" stroke-width="0.45" text-anchor="end">50</text>
<text x="229.8" y="1084.6" font-size="58" fill="#000" stroke="#000" stroke-width="0.45" text-anchor="middle">0</text>
<text x="471.25" y="1084.6" font-size="58" fill="#000" stroke="#000" stroke-width="0.45" text-anchor="middle">20</text>
<text x="712.7" y="1084.6" font-size="58" fill="#000" stroke="#000" stroke-width="0.45" text-anchor="middle">40</text>
<text x="954.15" y="1084.6" font-size="58" fill="#000" stroke="#000" stroke-width="0.45" text-anchor="middle">60</text>
<text x="1195.6" y="1084.6" font-size="58" fill="#000" stroke="#000" stroke-width="0.45" text-anchor="middle">80</text>
<text x="1437.05" y="1084.6" font-size="58" fill="#000" stroke="#000" stroke-width="0.45" text-anchor="middle">100</text>
<text x="1678.5" y="1084.6" font-size="58" fill="#000" stroke="#000" stroke-width="0.45" text-anchor="middle">120</text>
<text x="802.6" y="1141.6" font-size="54.46" textLength="313.8" lengthAdjust="spacingAndGlyphs" fill="#000" stroke="#000" stroke-width="0.45">Distance (nm)</text>
<text transform="translate(74.75 788.2) rotate(-90)" font-size="51.47" textLength="511.19" lengthAdjust="spacingAndGlyphs" fill="#000" stroke="#000" stroke-width="0.45">Concentraction (at. %)</text>
<text x="191.8" y="93.4" font-size="50.25" textLength="252.19" lengthAdjust="spacingAndGlyphs" fill="#000" stroke="#000" stroke-width="0.45">(In,Fe)AsSb</text>
<text x="707" y="90.2" font-size="52.62" textLength="118.21" lengthAdjust="spacingAndGlyphs" fill="#000" stroke="#000" stroke-width="0.45">GaAs</text>
<text x="899" y="90.6" font-size="50.01" textLength="240.04" lengthAdjust="spacingAndGlyphs" fill="#000" stroke="#000" stroke-width="0.45">(InFe)AsSb</text>
<text x="1226" y="90.2" font-size="49.29" textLength="214.81" lengthAdjust="spacingAndGlyphs" fill="#000" stroke="#000" stroke-width="0.45">GaAs sub.</text>
<text x="360.5" y="237.4" font-size="54.93" fill="#006400" stroke="#006400" stroke-width="0.45">In</text>
<text x="1198.4" y="338.7" font-size="56.57" fill="#ff0000" stroke="#ff0000" stroke-width="0.45">As</text>
<text x="1269.1" y="510.1" font-size="56.19" fill="#0000ff" stroke="#0000ff" stroke-width="0.45">Ga</text>
<text x="907.2" y="914.8" font-size="56.51" fill="#000" stroke="#000" stroke-width="0.45">Fe</text>
<text x="386.1" y="974.5" font-size="56.47" fill="#750063" stroke="#750063" stroke-width="0.45">Sb</text>
<text x="184.3" y="407.2" font-size="73.32" fill="#ff00ff" stroke="#ff00ff" stroke-width="0.45">O</text>
<text x="177" y="701.1" font-size="74.66" fill="#780000" stroke="#780000" stroke-width="0.45">C</text>
</g>
</svg>
</body></html>
